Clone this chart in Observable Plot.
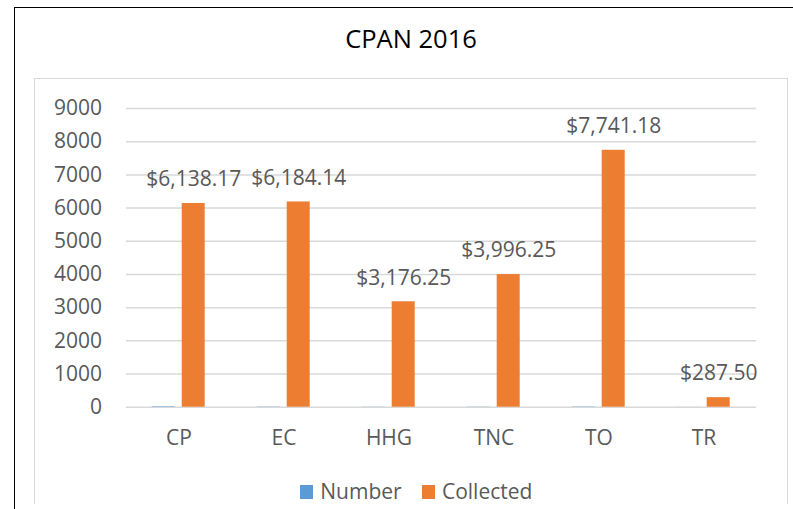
<!DOCTYPE html>
<html>
<head>
<meta charset="utf-8">
<script src="https://cdn.jsdelivr.net/npm/d3@7"></script>
<script src="https://cdn.jsdelivr.net/npm/@observablehq/plot@0.6"></script>
<style>
  html, body { margin: 0; padding: 0; background: #fff; }
  #wrap { position: relative; width: 793px; height: 509px; overflow: hidden; font-family: "Open Sans", sans-serif; }
  #outer { position: absolute; left: 14px; top: 7px; right: -10px; bottom: -10px; border-left: 1.6px solid #000; border-top: 1.6px solid #000; }
  #inner { position: absolute; left: 34px; top: 78px; width: 752px; height: 425px; border: 1.5px solid #D9D9D9; border-bottom: none; }
  #title { position: absolute; left: 35px; width: 752px; top: 26px; text-align: center; font-size: 25.5px; line-height: 25.5px; color: #000; }
  #legend { position: absolute; left: 300px; top: 480.5px; display: flex; align-items: center; font-size: 21px; line-height: 21px; color: #595959; }
  .item { display: flex; align-items: center; margin-right: 20px; }
  .sw { width: 13.3px; height: 13.3px; margin-right: 7px; margin-top: 2px; }
  #chart { position: absolute; left: 0; top: 0; }
</style>
</head>
<body>
<div id="wrap">
  <div id="outer"></div>
  <div id="inner"></div>
  <div id="title"></div>
  <div id="chart"></div>
  <div id="legend"></div>
</div>
<script>
const titleText = "CPAN 2016";
const categories = ["CP", "EC", "HHG", "TNC", "TO", "TR"];
const seriesNames = ["Number", "Collected"];
const seriesColors = ["#5B9BD5", "#ED7D31"];
const numberValues = [15, 8, 5, 6, 10, 2];
const collectedValues = [6138.17, 6184.14, 3176.25, 3996.25, 7741.18, 287.50];
const yTicks = [0, 1000, 2000, 3000, 4000, 5000, 6000, 7000, 8000, 9000];

const data = [];
categories.forEach((c, i) => {
  data.push({category: c, series: seriesNames[0], value: numberValues[i]});
  data.push({category: c, series: seriesNames[1], value: collectedValues[i]});
});
const collectedData = data.filter(d => d.series === seriesNames[1]);
const money = v => "$" + d3.format(",.2f")(v);

document.getElementById("title").textContent = titleText;

const chart = Plot.plot({
  width: 793,
  height: 509,
  marginLeft: 123.3,
  marginRight: 35.3,
  marginTop: 108,
  marginBottom: 102.3,
  style: {fontFamily: "'Open Sans', sans-serif", fontSize: "21px", color: "#595959", background: "transparent", overflow: "visible"},
  fx: {domain: categories, padding: 0, label: null},
  x: {domain: seriesNames, paddingInner: 0.233, paddingOuter: 0.827, axis: null},
  y: {domain: [0, 9000], label: null},
  color: {domain: seriesNames, range: seriesColors},
  marks: [
    Plot.gridY(yTicks, {stroke: "#D9D9D9", strokeOpacity: 1, strokeWidth: 1.5}),
    Plot.axisY({ticks: yTicks, tickSize: 0, tickPadding: 24.5, tickFormat: d => String(d), label: null, fill: "#595959", fontSize: 21}),
    Plot.axisFx({anchor: "bottom", tickSize: 0, tickPadding: 23, label: null, fill: "#595959", fontSize: 21}),
    Plot.barY(data, {fx: "category", x: "series", y: "value", fill: "series"}),
    Plot.text(collectedData, {fx: "category", x: "series", y: "value", text: d => money(d.value), dy: -24, fill: "#595959", fontSize: 21})
  ]
});
document.getElementById("chart").appendChild(chart);

const legend = document.getElementById("legend");
seriesNames.forEach((s, i) => {
  const item = document.createElement("div");
  item.className = "item";
  const sw = document.createElement("div");
  sw.className = "sw";
  sw.style.background = seriesColors[i];
  const lab = document.createElement("span");
  lab.textContent = s;
  item.appendChild(sw);
  item.appendChild(lab);
  legend.appendChild(item);
});
</script>
</body>
</html>
